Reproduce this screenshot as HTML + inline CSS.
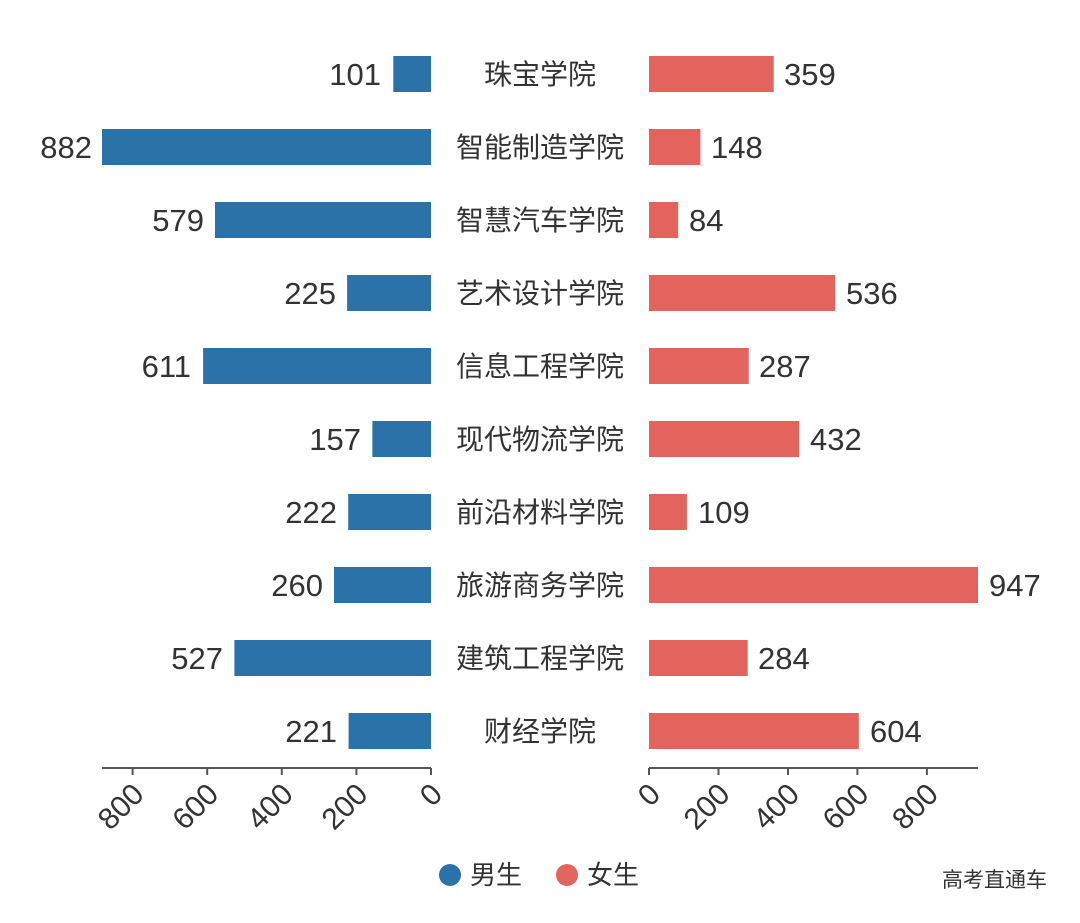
<!DOCTYPE html>
<html><head><meta charset="utf-8"><style>
body{margin:0;background:#fff}
text{font-family:"Liberation Sans","Noto Sans CJK SC",sans-serif;fill:#333}
</style></head><body>
<svg width="1080" height="918" xmlns="http://www.w3.org/2000/svg">
<g fill="#2a72a8">
<rect x="393.3" y="56" width="37.7" height="36"/>
<rect x="102" y="129" width="329" height="36"/>
<rect x="215" y="202" width="216" height="36"/>
<rect x="347.1" y="275" width="83.9" height="36"/>
<rect x="203.1" y="348" width="227.9" height="36"/>
<rect x="372.4" y="421" width="58.6" height="36"/>
<rect x="348.2" y="494" width="82.8" height="36"/>
<rect x="334" y="567" width="97" height="36"/>
<rect x="234.4" y="640" width="196.6" height="36"/>
<rect x="348.6" y="713" width="82.4" height="36"/>
</g>
<g fill="#e3645d">
<rect x="649" y="56" width="124.7" height="36"/>
<rect x="649" y="129" width="51.4" height="36"/>
<rect x="649" y="202" width="29.2" height="36"/>
<rect x="649" y="275" width="186.2" height="36"/>
<rect x="649" y="348" width="99.7" height="36"/>
<rect x="649" y="421" width="150.1" height="36"/>
<rect x="649" y="494" width="37.9" height="36"/>
<rect x="649" y="567" width="329" height="36"/>
<rect x="649" y="640" width="98.7" height="36"/>
<rect x="649" y="713" width="209.8" height="36"/>
</g>
<g font-size="31" text-anchor="end">
<text x="381" y="85">101</text>
<text x="92" y="158">882</text>
<text x="204" y="231">579</text>
<text x="336" y="304">225</text>
<text x="191" y="377">611</text>
<text x="361" y="450">157</text>
<text x="337" y="523">222</text>
<text x="323" y="596">260</text>
<text x="223" y="669">527</text>
<text x="337" y="742">221</text>
</g>
<g font-size="31">
<text x="784" y="85">359</text>
<text x="711" y="158">148</text>
<text x="689" y="231">84</text>
<text x="846" y="304">536</text>
<text x="759" y="377">287</text>
<text x="810" y="450">432</text>
<text x="698" y="523">109</text>
<text x="989" y="596">947</text>
<text x="758" y="669">284</text>
<text x="870" y="742">604</text>
</g>
<g font-size="28" text-anchor="middle">
<text x="540" y="84">珠宝学院</text>
<text x="540" y="157">智能制造学院</text>
<text x="540" y="230">智慧汽车学院</text>
<text x="540" y="303">艺术设计学院</text>
<text x="540" y="376">信息工程学院</text>
<text x="540" y="449">现代物流学院</text>
<text x="540" y="522">前沿材料学院</text>
<text x="540" y="595">旅游商务学院</text>
<text x="540" y="668">建筑工程学院</text>
<text x="540" y="741">财经学院</text>
</g>
<g stroke="#555" stroke-width="2">
<line x1="102" y1="768" x2="431" y2="768"/>
<line x1="649" y1="768" x2="978" y2="768"/>
<line x1="431" y1="768" x2="431" y2="775"/>
<line x1="356.4" y1="768" x2="356.4" y2="775"/>
<line x1="281.8" y1="768" x2="281.8" y2="775"/>
<line x1="207.2" y1="768" x2="207.2" y2="775"/>
<line x1="132.6" y1="768" x2="132.6" y2="775"/>
<line x1="649" y1="768" x2="649" y2="775"/>
<line x1="718.5" y1="768" x2="718.5" y2="775"/>
<line x1="788" y1="768" x2="788" y2="775"/>
<line x1="857.4" y1="768" x2="857.4" y2="775"/>
<line x1="926.9" y1="768" x2="926.9" y2="775"/>
</g>
<g font-size="30" text-anchor="end">
<text transform="translate(444,796) rotate(-45)">0</text>
<text transform="translate(369.4,796) rotate(-45)">200</text>
<text transform="translate(294.8,796) rotate(-45)">400</text>
<text transform="translate(220.2,796) rotate(-45)">600</text>
<text transform="translate(145.6,796) rotate(-45)">800</text>
<text transform="translate(662,796) rotate(-45)">0</text>
<text transform="translate(731.5,796) rotate(-45)">200</text>
<text transform="translate(801,796) rotate(-45)">400</text>
<text transform="translate(870.4,796) rotate(-45)">600</text>
<text transform="translate(939.9,796) rotate(-45)">800</text>
</g>
<circle cx="450" cy="875" r="11" fill="#2a72a8"/><text x="470" y="884" font-size="26">男生</text>
<circle cx="567" cy="875" r="11" fill="#e3645d"/><text x="587" y="884" font-size="26">女生</text>
<text x="942" y="887" font-size="21">高考直通车</text>
</svg>
</body></html>
